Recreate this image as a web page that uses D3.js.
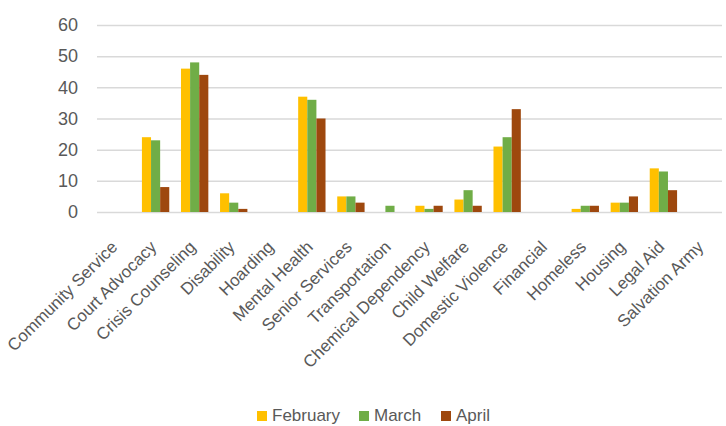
<!DOCTYPE html>
<html>
<head>
<meta charset="utf-8">
<script src="https://cdn.jsdelivr.net/npm/d3@7"></script>
<style>
  body { margin: 0; background: #fff; }
  text { font-family: "Liberation Sans", Arial, sans-serif; fill: #595959; }
</style>
</head>
<body>
<div id="chart"></div>
<script>
// categories and monthly counts
var categories = ["Community Service", "Court Advocacy", "Crisis Counseling", "Disability",
  "Hoarding", "Mental Health", "Senior Services", "Transportation", "Chemical Dependency",
  "Child Welfare", "Domestic Violence", "Financial", "Homeless", "Housing", "Legal Aid",
  "Salvation Army"];
var months = ["February", "March", "April"];
var february = [0, 24, 46, 6, 0, 37, 5, 0, 2, 4, 21, 0, 1, 3, 14, 0];
var march    = [0, 23, 48, 3, 0, 36, 5, 2, 1, 7, 24, 0, 2, 3, 13, 0];
var april    = [0, 8, 44, 1, 0, 30, 3, 0, 2, 2, 33, 0, 2, 5, 7, 0];
var yTicks = [0, 10, 20, 30, 40, 50, 60];
var colors = ["#FFC000", "#70AD47", "#9E480E"];

var series = [february, march, april];
var rows = categories.map(function(c, i) {
  return { name: c, values: months.map(function(m, j) { return { month: m, value: series[j][i] }; }) };
});

var svgWidth = 726, svgHeight = 426;
var plotLeft = 97, plotRight = 722, plotTop = 25, plotBottom = 212;

var svg = d3.select("#chart").append("svg")
  .attr("width", svgWidth)
  .attr("height", svgHeight);

var x0 = d3.scaleBand().domain(categories).range([plotLeft, plotRight]).paddingInner(0.3).paddingOuter(0.15);
var x1 = d3.scaleBand().domain(months).range([0, x0.bandwidth()]);
var y = d3.scaleLinear().domain([0, 60]).range([plotBottom, plotTop]);

// gridlines + y labels
var yAxis = d3.axisLeft(y).tickValues(yTicks).tickSize(-(plotRight - plotLeft)).tickPadding(19);
var gy = svg.append("g")
  .attr("transform", `translate(${plotLeft},0)`)
  .call(yAxis);
gy.select(".domain").remove();
gy.selectAll("line").attr("stroke", "#d9d9d9").attr("stroke-width", 1.5);
gy.selectAll("text").style("font-size", "18px").attr("fill", "#595959")
  .style("font-family", "Liberation Sans, Arial, sans-serif");

// bars
var groups = svg.selectAll(".grp")
  .data(rows)
  .enter().append("g")
  .attr("class", "grp")
  .attr("transform", function(d) { return `translate(${x0(d.name)},0)`; });

groups.selectAll("rect")
  .data(function(d) { return d.values; })
  .enter().append("rect")
  .attr("x", function(d) { return x1(d.month); })
  .attr("width", x1.bandwidth())
  .attr("y", function(d) { return y(d.value); })
  .attr("height", function(d) { return y(0) - y(d.value); })
  .attr("fill", function(d, i) { return colors[i]; });

// x axis labels, rotated
var xAxis = d3.axisBottom(x0).tickSize(0).tickPadding(0);
var gx = svg.append("g")
  .attr("transform", `translate(0,${plotBottom})`)
  .call(xAxis);
gx.select(".domain").remove();
gx.selectAll("text")
  .style("font-size", "17px")
  .style("font-family", "Liberation Sans, Arial, sans-serif")
  .attr("fill", "#595959")
  .attr("text-anchor", "end")
  .attr("dy", "0")
  .attr("transform", "translate(2,36) rotate(-45)");

// legend
var legendX = [257, 359, 441];
var legend = svg.selectAll(".leg")
  .data(months)
  .enter().append("g")
  .attr("transform", function(d, i) { return `translate(${legendX[i]},411)`; });
legend.append("rect").attr("width", 10).attr("height", 10)
  .attr("fill", function(d, i) { return colors[i]; });
legend.append("text").attr("x", 15).attr("y", 10)
  .style("font-size", "17px")
  .text(function(d) { return d; });
</script>
</body>
</html>
